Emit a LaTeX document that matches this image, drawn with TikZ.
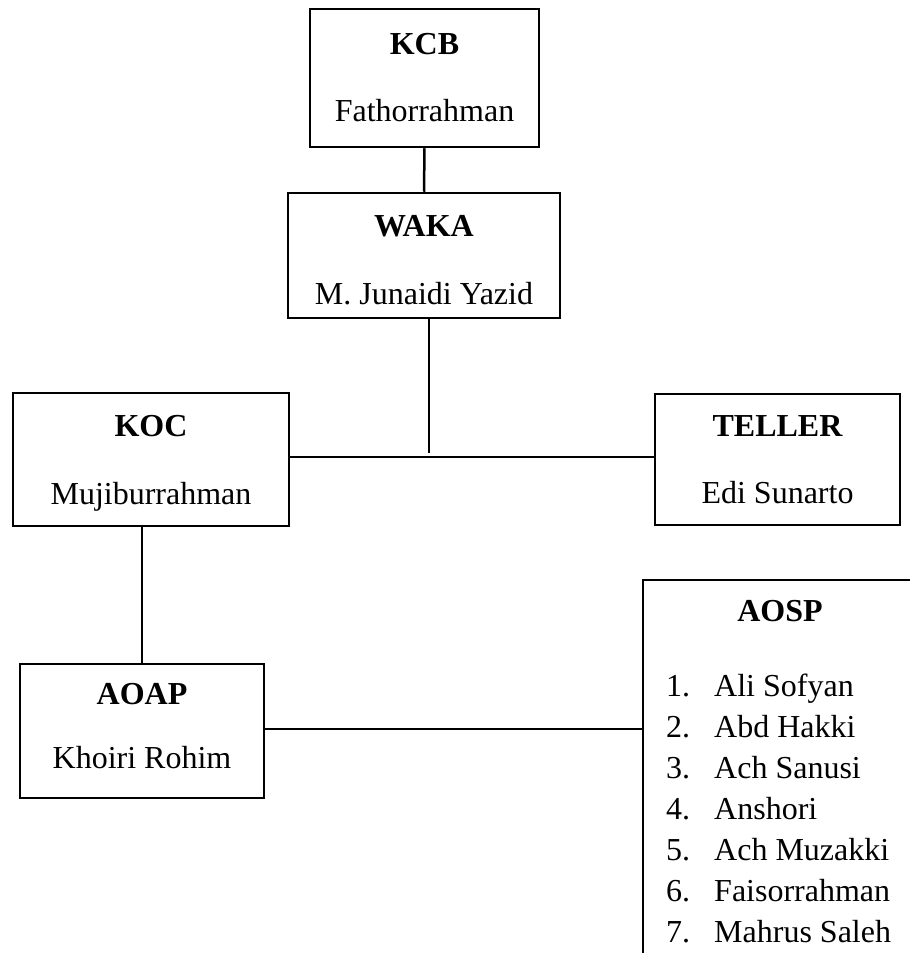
\documentclass[tikz,border=0pt]{standalone}
\usepackage{fontspec}
\setmainfont{Liberation Serif}
\begin{document}
\begin{tikzpicture}[x=1pt,y=-1pt,
  orgbox/.style={draw,line width=2.5pt,inner sep=0pt,fill=none},
  ttl/.style={anchor=base,inner sep=0pt,font=\fontsize{32}{38}\selectfont\bfseries},
  nm/.style={anchor=base,inner sep=0pt,font=\fontsize{32}{38}\selectfont},
  lst/.style={anchor=base west,inner sep=0pt,font=\fontsize{32}{38}\selectfont},
  conn/.style={line width=2.5pt}]
\clip (0,0) rectangle (910,953);
\fill[white] (0,0) rectangle (910,953);
% boxes
\node[orgbox,minimum width=229pt,minimum height=138pt] (kcb) at (424.5,78) {};
\node[orgbox,minimum width=272pt,minimum height=125pt] (waka) at (424,255.5) {};
\node[orgbox,minimum width=276pt,minimum height=133pt] (koc) at (151,459.5) {};
\node[orgbox,minimum width=245pt,minimum height=131pt] (teller) at (777.5,459.5) {};
\node[orgbox,minimum width=244pt,minimum height=134pt] (aoap) at (142,731) {};
\node[orgbox,minimum width=280pt,minimum height=400pt] (aosp) at (783,780) {};
% texts
\node[ttl] (kcbT) at (424.5,54) {KCB};
\node[nm] (kcbN) at (424.5,121) {Fathorrahman};
\node[ttl] (wakaT) at (424,236) {WAKA};
\node[nm] (wakaN) at (424,304) {M. Junaidi Yazid};
\node[ttl] (kocT) at (151,436) {KOC};
\node[nm] (kocN) at (151,504) {Mujiburrahman};
\node[ttl] (tellerT) at (777.5,436) {TELLER};
\node[nm] (tellerN) at (777.5,503) {Edi Sunarto};
\node[ttl] (aoapT) at (142,704) {AOAP};
\node[nm] (aoapN) at (142,768) {Khoiri Rohim};
\node[ttl] (aospT) at (780,621) {AOSP};
\foreach \i/\n [count=\k from 0] in {1/Ali Sofyan,2/Abd Hakki,3/Ach Sanusi,4/Anshori,5/Ach Muzakki,6/Faisorrahman,7/Mahrus Saleh}{
  \node[lst] (num\i) at (666,{696+41*\k}) {\i.};
  \node[lst] (item\i) at (714,{696+41*\k}) {\n};
}
% connectors
\coordinate (j) at (429,453);
\coordinate (h) at (0,457);
\coordinate (l) at (0,729);
\draw[conn] (kcb.south) -- (waka.north);
\draw[conn] (waka.south -| j) -- (j);
\draw[conn] (koc.east |- h) -- (teller.west |- h);
\draw[conn] (aoap.north) -- (aoap.north |- koc.south);
\draw[conn] (aoap.east |- l) -- (aosp.west |- l);
\end{tikzpicture}
\end{document}
